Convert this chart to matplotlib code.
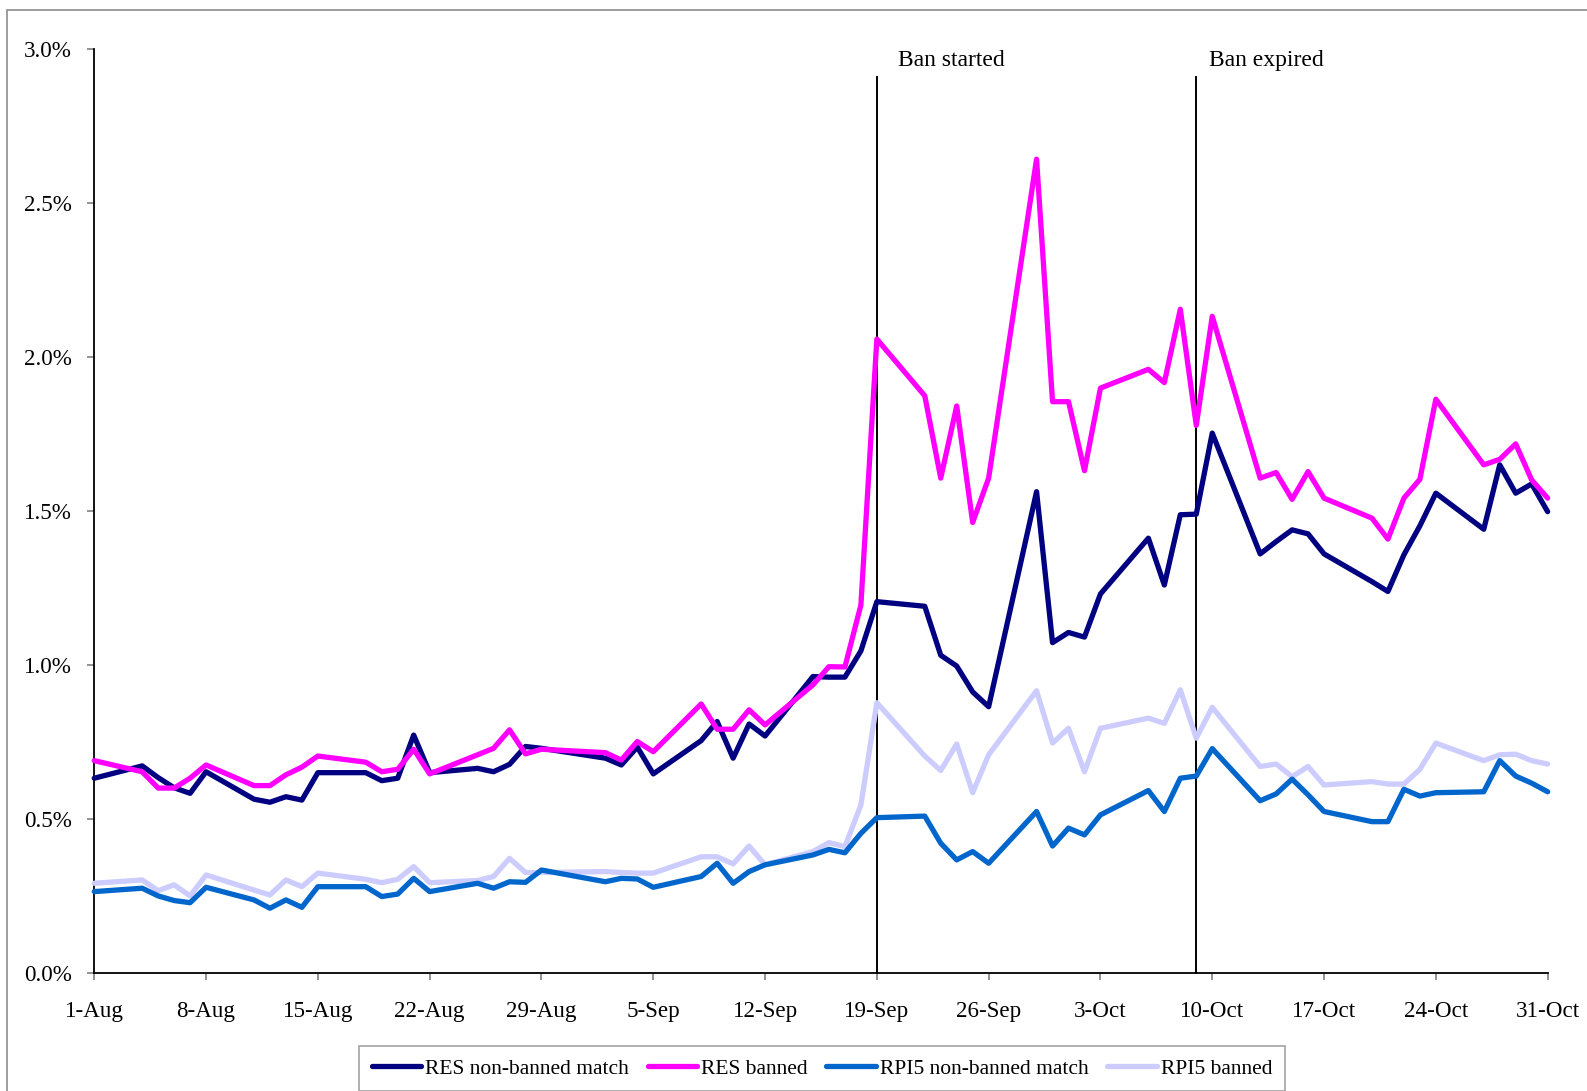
import datetime as dt

import numpy as np
import matplotlib
matplotlib.use('Agg')
from matplotlib import pyplot as plt
import matplotlib.dates as mdates
from matplotlib.patches import Rectangle

plt.rcParams['font.family'] = ['Liberation Serif', 'DejaVu Serif']

# trading days Aug - Oct 2008 (1-Sep holiday not in the data)
trade_days = [
    '2008-08-01', '2008-08-04', '2008-08-05', '2008-08-06', '2008-08-07', '2008-08-08',
    '2008-08-11', '2008-08-12', '2008-08-13', '2008-08-14', '2008-08-15',
    '2008-08-18', '2008-08-19', '2008-08-20', '2008-08-21', '2008-08-22',
    '2008-08-25', '2008-08-26', '2008-08-27', '2008-08-28', '2008-08-29',
    '2008-09-02', '2008-09-03', '2008-09-04', '2008-09-05',
    '2008-09-08', '2008-09-09', '2008-09-10', '2008-09-11', '2008-09-12',
    '2008-09-15', '2008-09-16', '2008-09-17', '2008-09-18', '2008-09-19',
    '2008-09-22', '2008-09-23', '2008-09-24', '2008-09-25', '2008-09-26',
    '2008-09-29', '2008-09-30', '2008-10-01', '2008-10-02', '2008-10-03',
    '2008-10-06', '2008-10-07', '2008-10-08', '2008-10-09', '2008-10-10',
    '2008-10-13', '2008-10-14', '2008-10-15', '2008-10-16', '2008-10-17',
    '2008-10-20', '2008-10-21', '2008-10-22', '2008-10-23', '2008-10-24',
    '2008-10-27', '2008-10-28', '2008-10-29', '2008-10-30', '2008-10-31',
]

# values in percent
res_non_banned = [
    0.632, 0.672, 0.634, 0.601, 0.583, 0.653, 0.564, 0.554, 0.572, 0.561, 0.650,
    0.650, 0.624, 0.632, 0.772, 0.650, 0.664, 0.653, 0.677, 0.735, 0.729,
    0.697, 0.675, 0.733, 0.646, 0.754, 0.816, 0.697, 0.808, 0.769, 0.962,
    0.960, 0.960, 1.045, 1.205, 1.190, 1.031, 0.996, 0.912, 0.864, 1.562, 1.072,
    1.105, 1.090, 1.230, 1.411, 1.259, 1.487, 1.489, 1.752, 1.360, 1.400, 1.438,
    1.425, 1.360, 1.270, 1.238, 1.357, 1.451, 1.557, 1.440, 1.649, 1.557, 1.587, 1.497,
]
res_banned = [
    0.689, 0.653, 0.600, 0.600, 0.632, 0.675, 0.608, 0.608, 0.643, 0.668, 0.704,
    0.684, 0.653, 0.661, 0.726, 0.646, 0.708, 0.729, 0.789, 0.711, 0.726,
    0.715, 0.691, 0.751, 0.718, 0.873, 0.791, 0.791, 0.854, 0.805, 0.935,
    0.994, 0.993, 1.194, 2.057, 1.873, 1.606, 1.840, 1.462, 1.606, 2.641, 1.854,
    1.854, 1.630, 1.898, 1.959, 1.916, 2.154, 1.777, 2.131, 1.606, 1.624, 1.537,
    1.627, 1.541, 1.476, 1.408, 1.541, 1.602, 1.862, 1.649, 1.667, 1.717, 1.600, 1.541,
]
rpi5_non_banned = [
    0.264, 0.275, 0.250, 0.235, 0.228, 0.278, 0.237, 0.210, 0.237, 0.213, 0.280,
    0.280, 0.248, 0.256, 0.307, 0.264, 0.291, 0.275, 0.296, 0.294, 0.334,
    0.296, 0.307, 0.305, 0.278, 0.313, 0.356, 0.291, 0.329, 0.351, 0.383,
    0.401, 0.390, 0.453, 0.504, 0.509, 0.421, 0.367, 0.394, 0.356, 0.524, 0.412,
    0.470, 0.448, 0.513, 0.592, 0.524, 0.632, 0.639, 0.728, 0.559, 0.581, 0.629,
    0.578, 0.524, 0.491, 0.491, 0.596, 0.574, 0.585, 0.588, 0.689, 0.639, 0.616, 0.588,
]
rpi5_banned = [
    0.291, 0.302, 0.267, 0.286, 0.250, 0.318, 0.269, 0.253, 0.302, 0.280, 0.324,
    0.304, 0.293, 0.304, 0.345, 0.293, 0.300, 0.313, 0.372, 0.326, 0.326,
    0.329, 0.326, 0.324, 0.324, 0.377, 0.377, 0.354, 0.412, 0.351, 0.394,
    0.423, 0.410, 0.545, 0.877, 0.704, 0.657, 0.743, 0.585, 0.708, 0.916, 0.746,
    0.794, 0.653, 0.794, 0.827, 0.810, 0.919, 0.762, 0.862, 0.670, 0.678, 0.637,
    0.670, 0.610, 0.621, 0.613, 0.613, 0.661, 0.746, 0.689, 0.708, 0.710, 0.689, 0.678,
]

series_labels = ['RES non-banned match', 'RES banned', 'RPI5 non-banned match', 'RPI5 banned']
series_colors = ['#000080', '#FF00FF', '#0066CC', '#CCCCFF']

ban_events = [('2008-09-19', 'Ban started'), ('2008-10-09', 'Ban expired')]
label_offsets = [15, 9]  # points right of the vertical line

x = [dt.datetime.strptime(d, '%Y-%m-%d') for d in trade_days]

fig = plt.figure(figsize=(15.87, 10.91), dpi=100)
ax = fig.add_axes([0.0594, 0.1082, 0.9158, 0.8473])

# chart frame (cropped on right / bottom in the original)
fig.add_artist(Rectangle((7 / 1587, -0.05), 1.2, 1.05 - 10 / 1091,
                         transform=fig.transFigure, fill=False,
                         edgecolor='#8c8c8c', lw=1.2))

all_series = [res_non_banned, res_banned, rpi5_non_banned, rpi5_banned]
zorders = [3, 4, 6, 5]
for vals, lab, col, z in zip(all_series, series_labels, series_colors, zorders):
    ax.plot(x, vals, color=col, lw=3.8, label=lab, solid_joinstyle='round',
            solid_capstyle='round', zorder=z, clip_on=False)

# ban markers
for (d, txt), off in zip(ban_events, label_offsets):
    xd = dt.datetime.strptime(d, '%Y-%m-%d')
    ax.plot([xd, xd], [0, 2.908], color='black', lw=1.4, zorder=2, clip_on=False)
    ax.annotate(txt, xy=(mdates.date2num(xd), 2.96), xytext=(off, 0),
                textcoords='offset points', ha='left', va='center',
                fontsize=17, annotation_clip=False)

ax.set_xlim(dt.datetime(2008, 8, 1), dt.datetime(2008, 10, 31))
ax.set_ylim(0, 3.0)

ticks = [dt.datetime(2008, 8, 1) + dt.timedelta(days=7 * i) for i in range(14)]
ax.set_xticks(ticks)
ax.set_xticklabels([f"{t.day}-{t.strftime('%b')}" for t in ticks])
ax.set_yticks(np.arange(0, 3.01, 0.5))
ax.yaxis.set_major_formatter(plt.FuncFormatter(lambda v, p: f'{v:.1f}%'))

ax.tick_params(axis='both', direction='out', length=5, width=1.2,
               color='#808080', labelsize=16.6)
ax.tick_params(axis='x', pad=15)
ax.tick_params(axis='y', pad=11)
for s in ['top', 'right']:
    ax.spines[s].set_visible(False)
for s in ['left', 'bottom']:
    ax.spines[s].set_color('black')
    ax.spines[s].set_linewidth(1.3)

leg = fig.legend(loc='center', bbox_to_anchor=(0.518, 0.0206), ncol=4,
                 fontsize=15.5, frameon=True, fancybox=False, handlelength=2.3,
                 handletextpad=0.2, columnspacing=0.85, borderpad=0.6)
leg.get_frame().set_edgecolor('#8c8c8c')
leg.get_frame().set_linewidth(1.2)
for h in leg.get_lines():
    h.set_linewidth(3.8)

fig.savefig('out.png', dpi=100)
